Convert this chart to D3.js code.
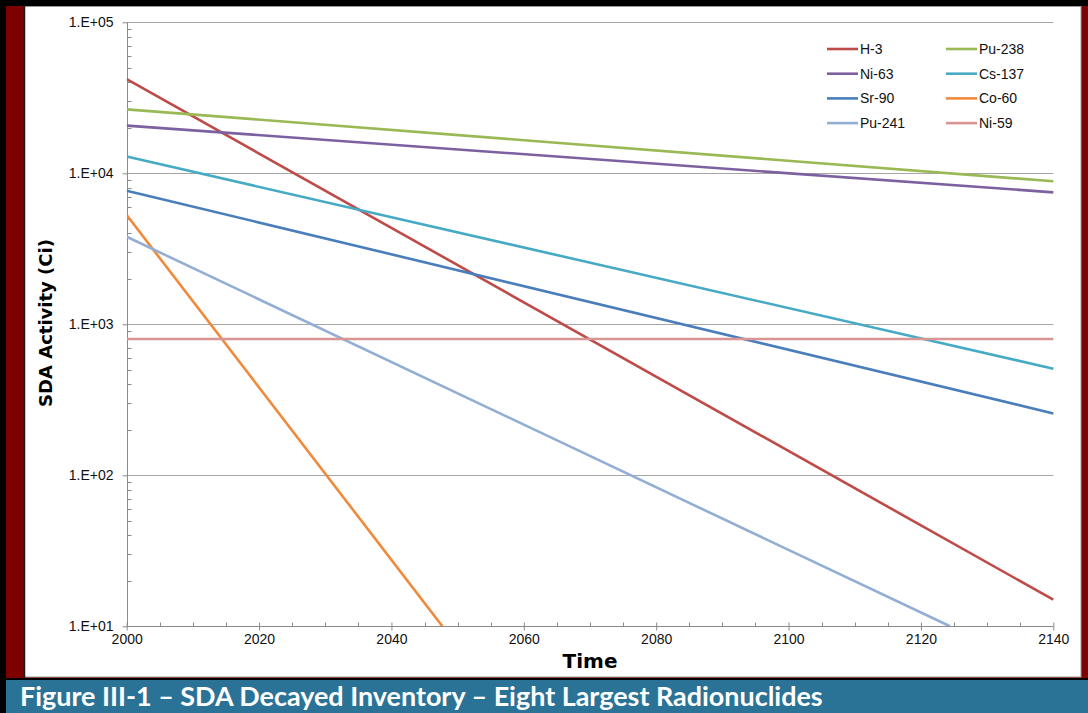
<!DOCTYPE html>
<html>
<head>
<meta charset="utf-8">
<script src="https://cdn.jsdelivr.net/npm/d3@7"></script>
<style>
  html, body { margin: 0; padding: 0; background: #000; }
  svg { display: block; }
</style>
</head>
<body>
<svg id="chart" width="1088" height="713"></svg>
<script>
// Decayed activity (Ci) of the eight largest radionuclides, [year, activity]
const nuclides = ["H-3", "Pu-238", "Ni-63", "Cs-137", "Sr-90", "Co-60", "Pu-241", "Ni-59"];
const h3    = [[2000, 42000], [2140, 15]];
const pu238 = [[2000, 26500], [2140, 8850]];
const ni63  = [[2000, 20700], [2140, 7480]];
const cs137 = [[2000, 12900], [2140, 508]];
const sr90  = [[2000, 7670],  [2140, 257]];
const co60  = [[2000, 5290],  [2047.7, 10]];
const pu241 = [[2000, 3800],  [2124.4, 10]];
const ni59  = [[2000, 800],   [2140, 800]];
const seriesValues = [h3, pu238, ni63, cs137, sr90, co60, pu241, ni59];
const seriesColors = ["#BE4B48", "#98B954", "#7D60A0", "#46AAC5", "#4A7EBB", "#F08A3A", "#93AED4", "#D89593"];

const xMajorTicks = [2000, 2020, 2040, 2060, 2080, 2100, 2120, 2140];
const yMajorTicks = [1e1, 1e2, 1e3, 1e4, 1e5];
const yTickLabels = ["1.E+01", "1.E+02", "1.E+03", "1.E+04", "1.E+05"];
const captionText = "Figure III-1 \u2013 SDA Decayed Inventory \u2013 Eight Largest Radionuclides";

const svg = d3.select("#chart");

// page frame: black edge, dark red band, caption strip, white chart panel
svg.append("rect").attr("x", 0).attr("y", 0).attr("width", 1088).attr("height", 713).attr("fill", "#000");
svg.append("rect").attr("x", 6).attr("y", 6).attr("width", 1082).attr("height", 672).attr("fill", "#7F0000");
svg.append("rect").attr("x", 6).attr("y", 680).attr("width", 1082).attr("height", 33).attr("fill", "#2B7396");
svg.append("rect").attr("x", 24.5).attr("y", 6.5).attr("width", 1056.5).attr("height", 670.5)
  .attr("fill", "#fff").attr("stroke", "#9a9a9a").attr("stroke-width", 1);
svg.append("line").attr("x1", 24.5).attr("x2", 24.5).attr("y1", 6).attr("y2", 678)
  .attr("stroke", "#1a1a1a").attr("stroke-width", 1.5);

const x = d3.scaleLinear().domain([2000, 2140]).range([126.7, 1053.3]);
const y = d3.scaleLog().domain([10, 1e5]).range([626.3, 22.3]);

const axisColor = "#8a8a8a";
const gridColor = "#a6a6a6";

// horizontal gridlines at each decade
svg.append("g").selectAll("line").data(yMajorTicks.slice(1)).join("line")
  .attr("x1", x(2000)).attr("x2", x(2140))
  .attr("y1", d => Math.round(y(d)) + 0.5).attr("y2", d => Math.round(y(d)) + 0.5)
  .attr("stroke", gridColor).attr("stroke-width", 1);

// y axis: outward major ticks, inward minor ticks
const yAxis = svg.append("g").attr("transform", `translate(${Math.round(x(2000)) + 0.5},0)`);
yAxis.call(d3.axisLeft(y).tickValues(yMajorTicks).tickSize(5).tickFormat((d, i) => yTickLabels[i]));
const yMinor = [];
yMajorTicks.slice(0, -1).forEach(d => { for (let k = 2; k <= 9; k++) yMinor.push(d * k); });
yAxis.append("g").selectAll("line").data(yMinor).join("line")
  .attr("x1", 0).attr("x2", 4)
  .attr("y1", d => Math.round(y(d)) + 0.5).attr("y2", d => Math.round(y(d)) + 0.5)
  .attr("stroke", axisColor);

// x axis: major ticks cross the line, minor ticks every 5 years point inward
const xAxis = svg.append("g").attr("transform", `translate(0,${Math.round(y(10)) + 0.5})`);
xAxis.call(d3.axisBottom(x).tickValues(xMajorTicks).tickSize(4).tickFormat(d3.format("d")));
xAxis.selectAll(".tick line").attr("y1", -4);
const xMinor = d3.range(2005, 2140, 5).filter(d => d % 20 !== 0);
xAxis.append("g").selectAll("line").data(xMinor).join("line")
  .attr("x1", d => Math.round(x(d)) + 0.5).attr("x2", d => Math.round(x(d)) + 0.5)
  .attr("y1", -4).attr("y2", 0)
  .attr("stroke", axisColor);

[yAxis, xAxis].forEach(g => {
  g.select(".domain").attr("stroke", axisColor);
  g.selectAll(".tick line").attr("stroke", axisColor);
  g.selectAll(".tick text")
    .attr("fill", "#111")
    .style("font-family", "'Liberation Sans', Arial, sans-serif")
    .style("font-size", "14px");
});
yAxis.select(".domain").attr("d", `M0,${y(1e5)}V${y(10)}`);
xAxis.select(".domain").attr("d", `M${x(2000)},0H${x(2140)}`);
yAxis.selectAll(".tick text").attr("x", -14);
xAxis.selectAll(".tick text").attr("y", 8);

// decay curves, clipped to the plot area
svg.append("clipPath").attr("id", "plot-clip").append("rect")
  .attr("x", x(2000)).attr("y", y(1e5) - 3)
  .attr("width", x(2140) - x(2000) + 3).attr("height", y(10) - y(1e5) + 3);

const line = d3.line().x(d => x(d[0])).y(d => y(d[1]));
svg.append("g").attr("clip-path", "url(#plot-clip)")
  .selectAll("path").data(seriesValues).join("path")
  .attr("d", line)
  .attr("fill", "none")
  .attr("stroke", (d, i) => seriesColors[i])
  .attr("stroke-width", 2.6)
  .attr("stroke-linecap", "butt");

// legend: two columns, filled row by row
const legend = svg.append("g");
const legendItems = legend.selectAll("g").data(nuclides).join("g")
  .attr("transform", (d, i) => `translate(${i % 2 === 0 ? 827 : 946},${49 + Math.floor(i / 2) * 24.7})`);
legendItems.append("line")
  .attr("x1", 0).attr("x2", 31).attr("y1", 0).attr("y2", 0)
  .attr("stroke", (d, i) => seriesColors[i]).attr("stroke-width", 2.6);
legendItems.append("text")
  .attr("x", 33).attr("y", 0).attr("dy", "0.35em")
  .attr("fill", "#111")
  .style("font-family", "'Liberation Sans', Arial, sans-serif")
  .style("font-size", "14px")
  .text(d => d);

// axis titles
svg.append("text")
  .attr("x", (x(2000) + x(2140)) / 2).attr("y", 661).attr("dy", "0.35em")
  .attr("text-anchor", "middle")
  .style("font-family", "'DejaVu Sans', sans-serif").style("font-weight", "bold").style("font-size", "20px")
  .attr("fill", "#000")
  .text("Time");
svg.append("text")
  .attr("transform", "translate(46,323) rotate(-90)")
  .attr("dy", "0.35em")
  .attr("text-anchor", "middle")
  .style("font-family", "'DejaVu Sans', sans-serif").style("font-weight", "bold").style("font-size", "18px")
  .attr("fill", "#000")
  .text("SDA Activity (Ci)");

// caption strip text, sized to span the strip like the document heading
const caption = svg.append("text")
  .attr("x", 20).attr("y", 706)
  .attr("fill", "#fff")
  .style("font-family", "Lato, 'Open Sans', sans-serif").style("font-weight", "bold").style("font-size", "24px")
  .text(captionText);
const capWidth = caption.node().getComputedTextLength();
caption.style("font-size", (24 * 803 / capWidth).toFixed(2) + "px");
</script>
</body>
</html>
